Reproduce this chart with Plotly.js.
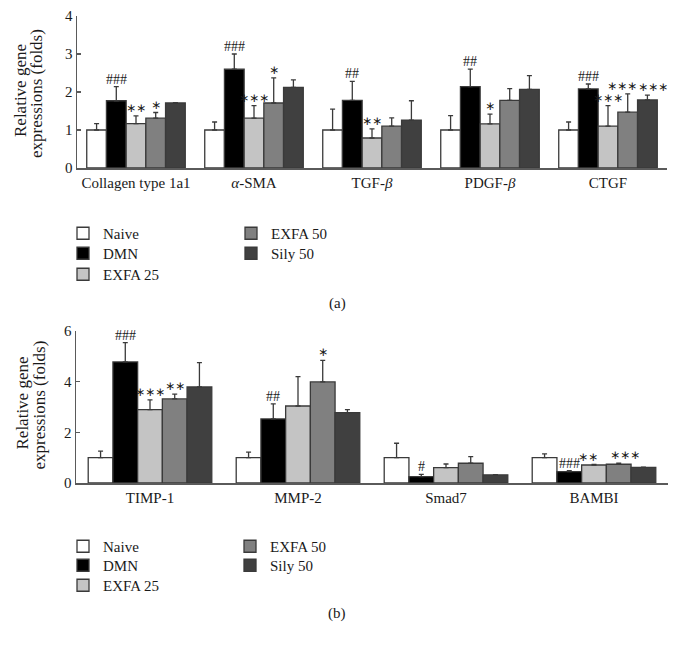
<!DOCTYPE html>
<html><head><meta charset="utf-8">
<script src="https://cdn.plot.ly/plotly-3.0.1.min.js"></script>
<style>html,body{margin:0;padding:0;background:#fff;}#chart{width:677px;height:648px;}</style>
</head><body><div id="chart"></div>
<script>
// ---------- DATA ----------
const seriesNames = ['Naive', 'DMN', 'EXFA 25', 'EXFA 50', 'Sily 50'];
const seriesColors = ['#ffffff', '#000000', '#c4c4c4', '#808080', '#404040'];

const categoriesA = ['Collagen type 1a1', '<i>α</i>-SMA', 'TGF-<i>β</i>', 'PDGF-<i>β</i>', 'CTGF'];
const naiveA    = [1.00, 1.00, 1.00, 1.00, 1.00];
const naiveErrA = [0.17, 0.21, 0.55, 0.38, 0.21];
const dmnA      = [1.77, 2.60, 1.78, 2.14, 2.08];
const dmnErrA   = [0.37, 0.40, 0.50, 0.46, 0.13];
const exfa25A   = [1.17, 1.31, 0.79, 1.16, 1.10];
const exfa25ErrA= [0.20, 0.33, 0.24, 0.26, 0.54];
const exfa50A   = [1.31, 1.71, 1.10, 1.78, 1.47];
const exfa50ErrA= [0.15, 0.66, 0.22, 0.31, 0.48];
const silyA     = [1.71, 2.12, 1.26, 2.07, 1.79];
const silyErrA  = [0.01, 0.20, 0.51, 0.36, 0.13];
const naiveSigA  = ['', '', '', '', ''];
const dmnSigA    = ['###', '###', '##', '##', '###'];
const exfa25SigA = ['∗∗', '∗∗∗', '∗∗', '∗', '∗∗∗'];
const exfa50SigA = ['∗', '∗', '', '', '∗∗∗'];
const silySigA   = ['', '', '', '', '∗∗∗'];
const yTicksA = [0, 1, 2, 3, 4];

const categoriesB = ['TIMP-1', 'MMP-2', 'Smad7', 'BAMBI'];
const naiveB    = [1.00, 1.00, 1.00, 1.00];
const naiveErrB = [0.26, 0.22, 0.57, 0.15];
const dmnB      = [4.78, 2.53, 0.25, 0.45];
const dmnErrB   = [0.76, 0.59, 0.09, 0.04];
const exfa25B   = [2.90, 3.04, 0.61, 0.71];
const exfa25ErrB= [0.38, 1.16, 0.14, 0.02];
const exfa50B   = [3.32, 3.99, 0.78, 0.74];
const exfa50ErrB= [0.19, 0.85, 0.26, 0.04];
const silyB     = [3.79, 2.78, 0.32, 0.62];
const silyErrB  = [0.96, 0.12, 0.01, 0.01];
const naiveSigB  = ['', '', '', ''];
const dmnSigB    = ['###', '##', '#', '###'];
const exfa25SigB = ['∗∗∗', '', '', '∗∗'];
const exfa50SigB = ['∗∗', '∗', '', '∗∗∗'];
const silySigB   = ['', '', '', ''];
const yTicksB = [0, 2, 4, 6];

// ---------- BUILD ----------
const FONT = 'Liberation Serif, Times New Roman, serif';
const STARFONT = 'DejaVu Sans, sans-serif';
const TXT = '#1a1a1a';
const BARGAP = 0.165;
const barW = (1 - BARGAP) / 5;

const valsA = [naiveA, dmnA, exfa25A, exfa50A, silyA];
const errsA = [naiveErrA, dmnErrA, exfa25ErrA, exfa50ErrA, silyErrA];
const sigsA = [naiveSigA, dmnSigA, exfa25SigA, exfa50SigA, silySigA];
const valsB = [naiveB, dmnB, exfa25B, exfa50B, silyB];
const errsB = [naiveErrB, dmnErrB, exfa25ErrB, exfa50ErrB, silyErrB];
const sigsB = [naiveSigB, dmnSigB, exfa25SigB, exfa50SigB, silySigB];

const W = 677, H = 648;
const px = v => v / W;
const py = v => 1 - v / H;

const traces = [];
const annotations = [];
function addPanel(cats, vals, errs, sigs, xa, ya, legs, yRange) {
  const idx = cats.map((c, i) => i);
  const isStar = (s) => !!s && s.indexOf('∗') >= 0;
  const clash = (a, b) => isStar(a) && isStar(b) && (a.length >= 3 || b.length >= 3);
  for (let j = 0; j < 5; j++) {
    traces.push({
      type: 'bar', name: seriesNames[j], x: idx, y: vals[j],
      xaxis: xa, yaxis: ya, legend: legs[j],
      marker: {color: seriesColors[j], line: {color: '#3a3a3a', width: 1.3}},
      error_y: {type: 'data', symmetric: false, array: errs[j], arrayminus: idx.map(() => 0),
                color: '#3a3a3a', thickness: 1.3, width: 2.5},
      hoverinfo: 'skip'
    });
    idx.forEach(i => {
      const s = sigs[j][i];
      if (!s) return;
      const star = isStar(s);
      const top = vals[j][i] + errs[j][i];
      // nudge neighbouring star labels apart when they sit side by side at about the same height
      let xs = 0;
      if (j < 4 && clash(s, sigs[j + 1][i]) && Math.abs(vals[j + 1][i] + errs[j + 1][i] - top) < yRange * 0.035) xs -= 6;
      if (j > 0 && clash(s, sigs[j - 1][i]) && Math.abs(vals[j - 1][i] + errs[j - 1][i] - top) < yRange * 0.035) xs += 6;
      annotations.push({
        xref: xa, yref: ya, x: i + (j - 2) * barW, y: top,
        text: s, showarrow: false, yanchor: 'bottom', xanchor: 'center',
        xshift: xs, yshift: star ? -1 : -2,
        font: {family: star ? STARFONT : FONT, size: star ? 12 : 14, color: TXT}
      });
    });
  }
}
addPanel(categoriesA, valsA, errsA, sigsA, 'x', 'y', ['legend', 'legend2', 'legend3', 'legend4', 'legend5'], 4);
addPanel(categoriesB, valsB, errsB, sigsB, 'x2', 'y2', ['legend6', 'legend7', 'legend8', 'legend9', 'legend10'], 6);

// y-axis titles (one annotation per line) and panel labels
function ytitle(x, y, t) {
  annotations.push({xref: 'paper', yref: 'paper', x: px(x), y: py(y), text: t, textangle: -90, showarrow: false,
    font: {family: FONT, size: 17, color: TXT}, xanchor: 'center', yanchor: 'middle'});
}
ytitle(20, 91, 'Relative gene');
ytitle(37, 94, 'expressions (folds)');
ytitle(21.5, 403, 'Relative gene');
ytitle(38.5, 405, 'expressions (folds)');
annotations.push({xref: 'paper', yref: 'paper', x: px(337), y: py(303), text: '(a)', showarrow: false,
  font: {family: FONT, size: 15, color: TXT}, xanchor: 'center', yanchor: 'middle'});
annotations.push({xref: 'paper', yref: 'paper', x: px(337), y: py(613), text: '(b)', showarrow: false,
  font: {family: FONT, size: 15, color: TXT}, xanchor: 'center', yanchor: 'middle'});

const axisCommon = {showgrid: false, zeroline: false, showline: true, linecolor: '#5a5a5a', linewidth: 1.5,
  tickfont: {family: FONT, size: 15, color: TXT}, fixedrange: true};

const legendCommon = {font: {family: FONT, size: 15, color: TXT}, bgcolor: 'rgba(0,0,0,0)',
  xanchor: 'left', yanchor: 'top', xref: 'paper', yref: 'paper', itemclick: false};
const leg = (x, yc) => Object.assign({}, legendCommon, {x: px(x), y: py(yc - 16)});

const layout = {
  width: W, height: H, margin: {l: 0, r: 0, t: 0, b: 0},
  paper_bgcolor: '#fff', plot_bgcolor: '#fff',
  barmode: 'group', bargap: BARGAP, bargroupgap: 0,
  font: {family: FONT, color: TXT},
  xaxis: Object.assign({}, axisCommon, {domain: [px(77), px(667)], range: [-0.5, categoriesA.length - 0.5],
    tickvals: categoriesA.map((c, i) => i), ticktext: categoriesA, ticks: '', anchor: 'y'}),
  yaxis: Object.assign({}, axisCommon, {domain: [py(168), py(16)], range: [0, 4], tickvals: yTicksA,
    ticks: 'inside', ticklen: 4, tickcolor: '#5a5a5a', tickwidth: 1.5, anchor: 'x'}),
  xaxis2: Object.assign({}, axisCommon, {domain: [px(76), px(668)], range: [-0.5, categoriesB.length - 0.5],
    tickvals: categoriesB.map((c, i) => i), ticktext: categoriesB, ticks: '', anchor: 'y2'}),
  yaxis2: Object.assign({}, axisCommon, {domain: [py(483), py(331)], range: [0, 6], tickvals: yTicksB,
    ticks: 'inside', ticklen: 4, tickcolor: '#5a5a5a', tickwidth: 1.5, anchor: 'x2'}),
  legend:   leg(63, 233),
  legend2:  leg(63, 253),
  legend3:  leg(63, 274),
  legend4:  leg(231, 233),
  legend5:  leg(231, 253),
  legend6:  leg(63, 546),
  legend7:  leg(63, 565),
  legend8:  leg(63, 585),
  legend9:  leg(230, 546),
  legend10: leg(230, 565),
  annotations: annotations,
  showlegend: true
};

Plotly.newPlot('chart', traces, layout, {displayModeBar: false, staticPlot: true});
</script>
</body></html>
